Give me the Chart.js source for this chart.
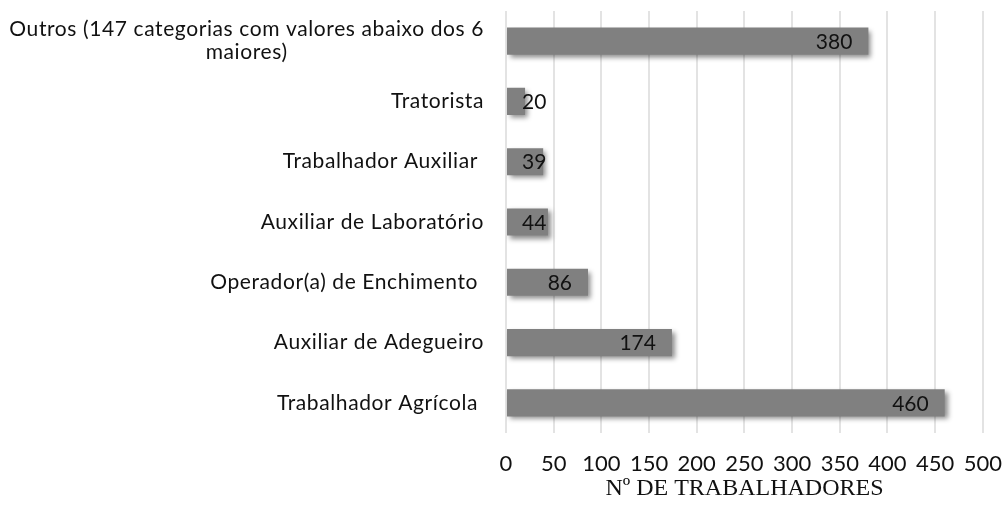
<!DOCTYPE html>
<html>
<head>
<meta charset="utf-8">
<script src="https://cdn.jsdelivr.net/npm/chart.js@4"></script>
<style>
  html, body { margin: 0; padding: 0; background: #fff; }
  .chart-wrap { width: 1002px; height: 508px; position: relative; }
</style>
</head>
<body>
<div class="chart-wrap">
  <canvas id="workersChart"></canvas>
</div>
<script>
const categories = [
  ["Outros (147 categorias com valores abaixo dos 6", "maiores)"],
  "Tratorista",
  "Trabalhador Auxiliar ",
  "Auxiliar de Laboratório",
  "Operador(a) de Enchimento ",
  "Auxiliar de Adegueiro",
  "Trabalhador Agrícola "
];
const workers = [380, 20, 39, 44, 86, 174, 460];
const xMin = 0;
const xMax = 500;
const xStep = 50;
const xTitle = "Nº DE TRABALHADORES";

const sansFont = "Lato, 'Open Sans', sans-serif";

// bar shadow like the office export
const barShadow = {
  id: "barShadow",
  beforeDatasetDraw(chart) {
    const ctx = chart.ctx;
    ctx.save();
    ctx.shadowColor = "rgba(0,0,0,0.45)";
    ctx.shadowBlur = 5;
    ctx.shadowOffsetX = 3;
    ctx.shadowOffsetY = 3;
  },
  afterDatasetDraw(chart) {
    chart.ctx.restore();
  }
};

// category labels: single lines right aligned, wrapped label centred on its widest line
const categoryLabels = {
  id: "categoryLabels",
  afterDraw(chart) {
    const ctx = chart.ctx;
    const yScale = chart.scales.y;
    const rightX = 484;
    ctx.save();
    ctx.font = "21px " + sansFont;
    ctx.letterSpacing = "0.6px";
    ctx.fillStyle = "#111";
    ctx.textBaseline = "middle";
    categories.forEach((label, i) => {
      const y = yScale.getPixelForValue(i);
      if (Array.isArray(label)) {
        const widest = Math.max(...label.map(l => ctx.measureText(l).width));
        const cx = rightX - widest / 2;
        const lineH = 23;
        ctx.textAlign = "center";
        label.forEach((line, j) => {
          ctx.fillText(line, cx, y + (j - (label.length - 1) / 2) * lineH);
        });
      } else {
        ctx.textAlign = "right";
        ctx.fillText(label, rightX, y);
      }
    });
    ctx.restore();
  }
};

// value labels near the bar end
const valueLabels = {
  id: "valueLabels",
  afterDatasetsDraw(chart) {
    const ctx = chart.ctx;
    const meta = chart.getDatasetMeta(0);
    const left = chart.chartArea.left;
    ctx.save();
    ctx.font = "21px " + sansFont;
    ctx.fillStyle = "#111";
    ctx.textBaseline = "middle";
    ctx.textAlign = "left";
    meta.data.forEach((bar, i) => {
      const text = String(workers[i]);
      const w = ctx.measureText(text).width;
      const x = Math.max(bar.x - 16 - w, left + 16);
      ctx.fillText(text, x, bar.y + 1);
    });
    ctx.restore();
  }
};

new Chart(document.getElementById("workersChart"), {
  type: "bar",
  data: {
    labels: categories,
    datasets: [{
      data: workers,
      backgroundColor: "#808080",
      borderWidth: 0,
      barPercentage: 0.45,
      categoryPercentage: 1
    }]
  },
  options: {
    indexAxis: "y",
    responsive: true,
    maintainAspectRatio: false,
    animation: false,
    layout: {
      padding: { top: 11, right: 0, bottom: 6, left: 0 }
    },
    plugins: {
      legend: { display: false },
      tooltip: { enabled: false }
    },
    scales: {
      x: {
        min: xMin,
        max: xMax,
        grid: {
          color: "#e3e3e3",
          lineWidth: 2,
          drawTicks: false
        },
        border: { display: false },
        ticks: {
          stepSize: xStep,
          color: "#111",
          padding: 0,
          maxRotation: 0,
          // tall line box pushes the labels down without widening the side padding
          font: { family: sansFont, size: 22, lineHeight: 2.82 }
        },
        title: {
          display: true,
          text: xTitle,
          color: "#111",
          padding: { top: 0, bottom: 0 },
          font: { family: "'Liberation Serif', 'Times New Roman', serif", size: 24, lineHeight: 1.1 }
        },
        afterFit(scale) {
          scale.height = 69;
        }
      },
      y: {
        grid: { display: false },
        border: { display: false },
        ticks: { display: false },
        afterFit(scale) {
          scale.width = 506;
        }
      }
    }
  },
  plugins: [barShadow, valueLabels, categoryLabels]
});
</script>
</body>
</html>
